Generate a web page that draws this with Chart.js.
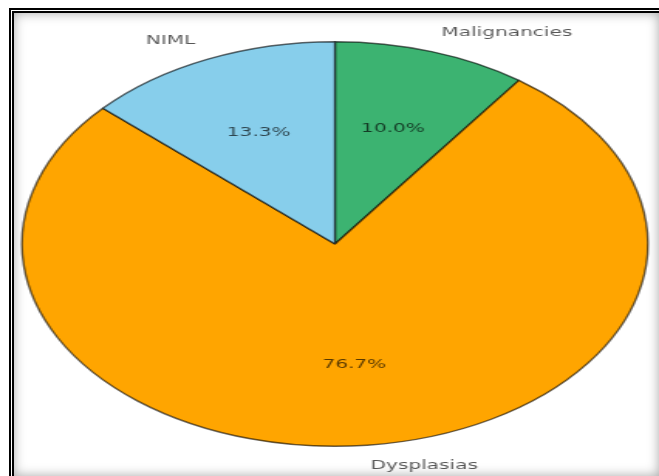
<!DOCTYPE html>
<html>
<head>
<meta charset="utf-8">
<script src="https://cdn.jsdelivr.net/npm/chart.js@4"></script>
<style>
  body { margin: 0; background: #fff; overflow: hidden; }
  #frame {
    position: absolute; left: 9px; top: 8px;
    width: 650px; height: 468px; box-sizing: border-box;
    border-left: 5px double #000; border-top: 5px double #000;
    box-shadow: inset 0 0 12px rgba(0, 0, 0, 0.35);
    background: #fff;
  }
  /* the pie is drawn round and then stretched sideways */
  #stretch {
    position: absolute; left: 0; top: 0;
    width: 426px; height: 476px;
    transform: scaleX(1.547);
    transform-origin: 0 0;
  }
</style>
</head>
<body>
<div id="frame"></div>
<div id="stretch"><canvas id="pieChart" width="426" height="476"></canvas></div>
<script>
const categories = ['Malignancies', 'Dysplasias', 'NIML'];
const shares = [10.0, 76.7, 13.3];
const sliceColors = ['#3cb371', '#ffa500', '#87ceeb'];

const textColor = 'rgba(0, 0, 0, 0.66)';
const textFont = '13px "DejaVu Sans", sans-serif';

// names outside the rim, percentages inside each wedge
const sliceLabels = {
    id: 'sliceLabels',
    afterDatasetsDraw(chart) {
        const ctx = chart.ctx;
        const arcs = chart.getDatasetMeta(0).data;
        ctx.save();
        ctx.font = textFont;
        ctx.fillStyle = textColor;
        ctx.textBaseline = 'middle';
        arcs.forEach((arc, i) => {
            const p = arc.getProps(['x', 'y', 'startAngle', 'endAngle', 'outerRadius'], true);
            const mid = (p.startAngle + p.endAngle) / 2;
            const cx = Math.cos(mid), cy = Math.sin(mid);

            ctx.textAlign = cx > 0 ? 'left' : 'right';
            ctx.fillText(categories[i], p.x + cx * p.outerRadius * 1.1, p.y + cy * p.outerRadius * 1.1);

            ctx.textAlign = 'center';
            ctx.fillText(shares[i].toFixed(1) + '%', p.x + cx * p.outerRadius * 0.6, p.y + cy * p.outerRadius * 0.6);
        });
        ctx.restore();
    }
};

const ctx = document.getElementById('pieChart').getContext('2d');
const pieChart = new Chart(ctx, {
    type: 'pie',
    data: {
        labels: categories,
        datasets: [{
            data: shares,
            backgroundColor: sliceColors,
            borderColor: 'rgba(0, 0, 0, 0.6)',
            borderWidth: 1.4
        }]
    },
    options: {
        responsive: false,
        devicePixelRatio: 1,
        animation: false,
        layout: { padding: { left: 7, right: 0, top: 41, bottom: 29 } },
        plugins: {
            legend: { display: false },
            tooltip: { enabled: false }
        }
    },
    plugins: [sliceLabels]
});
</script>
</body>
</html>
